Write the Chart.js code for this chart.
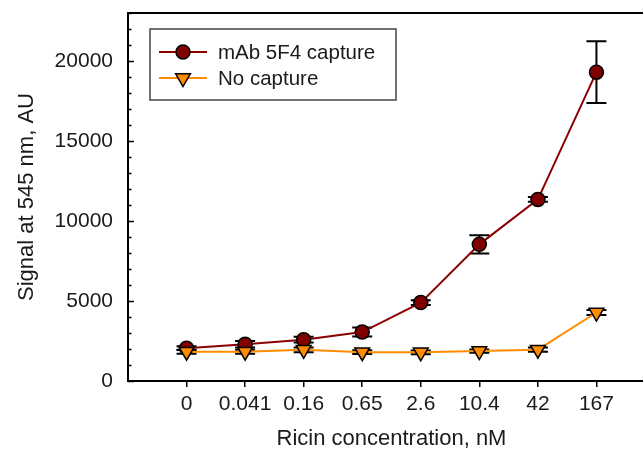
<!DOCTYPE html>
<html>
<head>
<meta charset="utf-8">
<script src="https://cdn.jsdelivr.net/npm/chart.js@4.4.1/dist/chart.umd.min.js"></script>
<style>
  html, body { margin: 0; padding: 0; background: #fff; overflow: hidden; }
  #wrap { position: relative; width: 670px; height: 452px; }
</style>
</head>
<body>
<div id="wrap"><canvas id="signalChart" width="670" height="452"></canvas></div>
<script>
// Ricin concentrations (nM), plotted as evenly spaced categories
const CONCENTRATIONS = ["0", "0.041", "0.16", "0.65", "2.6", "10.4", "42", "167"];

// Signal at 545 nm (AU) with standard deviations
const CAPTURE_SIGNAL = [2050, 2300, 2580, 3060, 4900, 8540, 11350, 19300];
const CAPTURE_SD = [120, 200, 180, 280, 150, 570, 150, 1930];
const NO_CAPTURE_SIGNAL = [1830, 1830, 1950, 1800, 1790, 1870, 1960, 4280];
const NO_CAPTURE_SD = [120, 120, 150, 120, 120, 100, 130, 150];

const Y_MAJOR_TICKS = [0, 5000, 10000, 15000, 20000];
const Y_MINOR_STEP = 1000;

const FONT = "'Liberation Sans', Arial, sans-serif";
const TEXT = "#1a1a1a";

const SERIES = [
  { label: "mAb 5F4 capture", values: CAPTURE_SIGNAL, sd: CAPTURE_SD, line: "#8b0000", fill: "#800000", style: "circle", radius: 7 },
  { label: "No capture", values: NO_CAPTURE_SIGNAL, sd: NO_CAPTURE_SD, line: "#ff8c00", fill: "#ff8c00", style: "triangle", radius: 8.5 },
];

function drawMarker(ctx, s, x, y) {
  ctx.beginPath();
  if (s.style === "circle") {
    ctx.arc(x, y, s.radius, 0, Math.PI * 2);
  } else {
    // downward triangle, same geometry as pointStyle "triangle" rotated 180
    const r = s.radius;
    ctx.moveTo(x, y + r);
    ctx.lineTo(x - r * Math.sin(Math.PI / 3), y - r / 2);
    ctx.lineTo(x + r * Math.sin(Math.PI / 3), y - r / 2);
    ctx.closePath();
  }
  ctx.fillStyle = s.fill;
  ctx.fill();
  ctx.lineWidth = 1.5;
  ctx.strokeStyle = "#000";
  ctx.stroke();
}

// error bars sit under the symbols
const errorBars = {
  id: "errorBars",
  beforeDatasetsDraw(chart) {
    const { ctx, scales: { x, y } } = chart;
    ctx.save();
    ctx.strokeStyle = "#000";
    ctx.lineWidth = 2;
    chart.data.datasets.forEach((ds) => {
      ds.data.forEach((pt, i) => {
        const px = x.getPixelForValue(pt.x);
        const top = y.getPixelForValue(pt.y + ds.sd[i]);
        const bot = y.getPixelForValue(pt.y - ds.sd[i]);
        ctx.beginPath();
        ctx.moveTo(px, top); ctx.lineTo(px, bot);
        ctx.moveTo(px - 10, top); ctx.lineTo(px + 10, top);
        ctx.moveTo(px - 10, bot); ctx.lineTo(px + 10, bot);
        ctx.stroke();
      });
    });
    ctx.restore();
  },
};

// box frame, inward y ticks and the legend
const frameAndLegend = {
  id: "frameAndLegend",
  afterDraw(chart) {
    const { ctx, chartArea: a, scales: { y } } = chart;
    ctx.save();
    ctx.strokeStyle = "#000";
    ctx.lineWidth = 2;
    ctx.beginPath();
    ctx.moveTo(a.left, a.top); ctx.lineTo(a.right, a.top); ctx.lineTo(a.right, a.bottom);
    ctx.stroke();

    ctx.lineWidth = 1.5;
    ctx.beginPath();
    for (let v = 0; v <= y.max; v += Y_MINOR_STEP) {
      const py = Math.round(y.getPixelForValue(v)) + 0.5;
      const len = v % 5000 === 0 ? 6 : 3.5;
      ctx.moveTo(a.left, py); ctx.lineTo(a.left + len, py);
    }
    ctx.stroke();

    // legend
    const box = { x: 150, y: 29, w: 246, h: 71 };
    ctx.lineWidth = 1.5;
    ctx.strokeStyle = "#444";
    ctx.strokeRect(box.x, box.y, box.w, box.h);
    const rows = [52, 78];
    SERIES.forEach((s, i) => {
      const ry = rows[i];
      ctx.strokeStyle = s.line;
      ctx.lineWidth = 2;
      ctx.beginPath();
      ctx.moveTo(159, ry); ctx.lineTo(207, ry);
      ctx.stroke();
      drawMarker(ctx, s, 183, ry);
      ctx.fillStyle = TEXT;
      ctx.font = "20.5px " + FONT;
      ctx.textBaseline = "middle";
      ctx.textAlign = "left";
      ctx.fillText(s.label, 218, ry + 1);
    });
    ctx.restore();
  },
};

const datasets = SERIES.map((s, k) => ({
  label: s.label,
  data: s.values.map((v, i) => ({ x: i, y: v })),
  sd: s.sd,
  borderColor: s.line,
  borderWidth: 2,
  backgroundColor: s.fill,
  pointBackgroundColor: s.fill,
  pointBorderColor: "#000",
  pointBorderWidth: 1.5,
  pointRadius: s.radius,
  pointStyle: s.style,
  pointRotation: s.style === "triangle" ? 180 : 0,
  tension: 0,
  order: k === 0 ? 1 : 0,
}));

new Chart(document.getElementById("signalChart"), {
  type: "line",
  data: { datasets },
  plugins: [errorBars, frameAndLegend],
  options: {
    responsive: false,
    animation: false,
    events: [],
    layout: { padding: { top: 13, right: 15, left: 0, bottom: 0 } },
    plugins: { legend: { display: false }, tooltip: { enabled: false } },
    scales: {
      x: {
        type: "linear",
        min: -1,
        max: 8,
        afterBuildTicks: (scale) => { scale.ticks = CONCENTRATIONS.map((_, i) => ({ value: i })); },
        afterFit: (scale) => {
          scale.height = 71;
          scale.paddingLeft = 0;
          scale.paddingRight = 0;
        },
        ticks: {
          callback: (v) => CONCENTRATIONS[v],
          color: TEXT,
          font: { family: FONT, size: 21 },
          padding: 5,
          maxRotation: 0,
          autoSkip: false,
        },
        grid: { drawOnChartArea: false, drawTicks: true, tickLength: 6, color: "#000", lineWidth: 1.5 },
        border: { display: true, color: "#000", width: 2 },
        title: { display: true, text: "Ricin concentration, nM", color: TEXT, font: { family: FONT, size: 22 }, padding: { bottom: 0 } },
      },
      y: {
        min: 0,
        max: 23000,
        afterBuildTicks: (scale) => { scale.ticks = Y_MAJOR_TICKS.map((v) => ({ value: v })); },
        afterFit: (scale) => {
          scale.width = 128;
          scale.paddingTop = 0;
          scale.paddingBottom = 0;
        },
        ticks: {
          callback: (v) => String(v),
          color: TEXT,
          font: { family: FONT, size: 21 },
          padding: 15,
        },
        grid: { display: false, drawTicks: false },
        border: { display: true, color: "#000", width: 2 },
        title: { display: true, text: "Signal at 545 nm, AU", color: TEXT, font: { family: FONT, size: 22 }, padding: { top: 14 } },
      },
    },
  },
});
</script>
</body>
</html>
